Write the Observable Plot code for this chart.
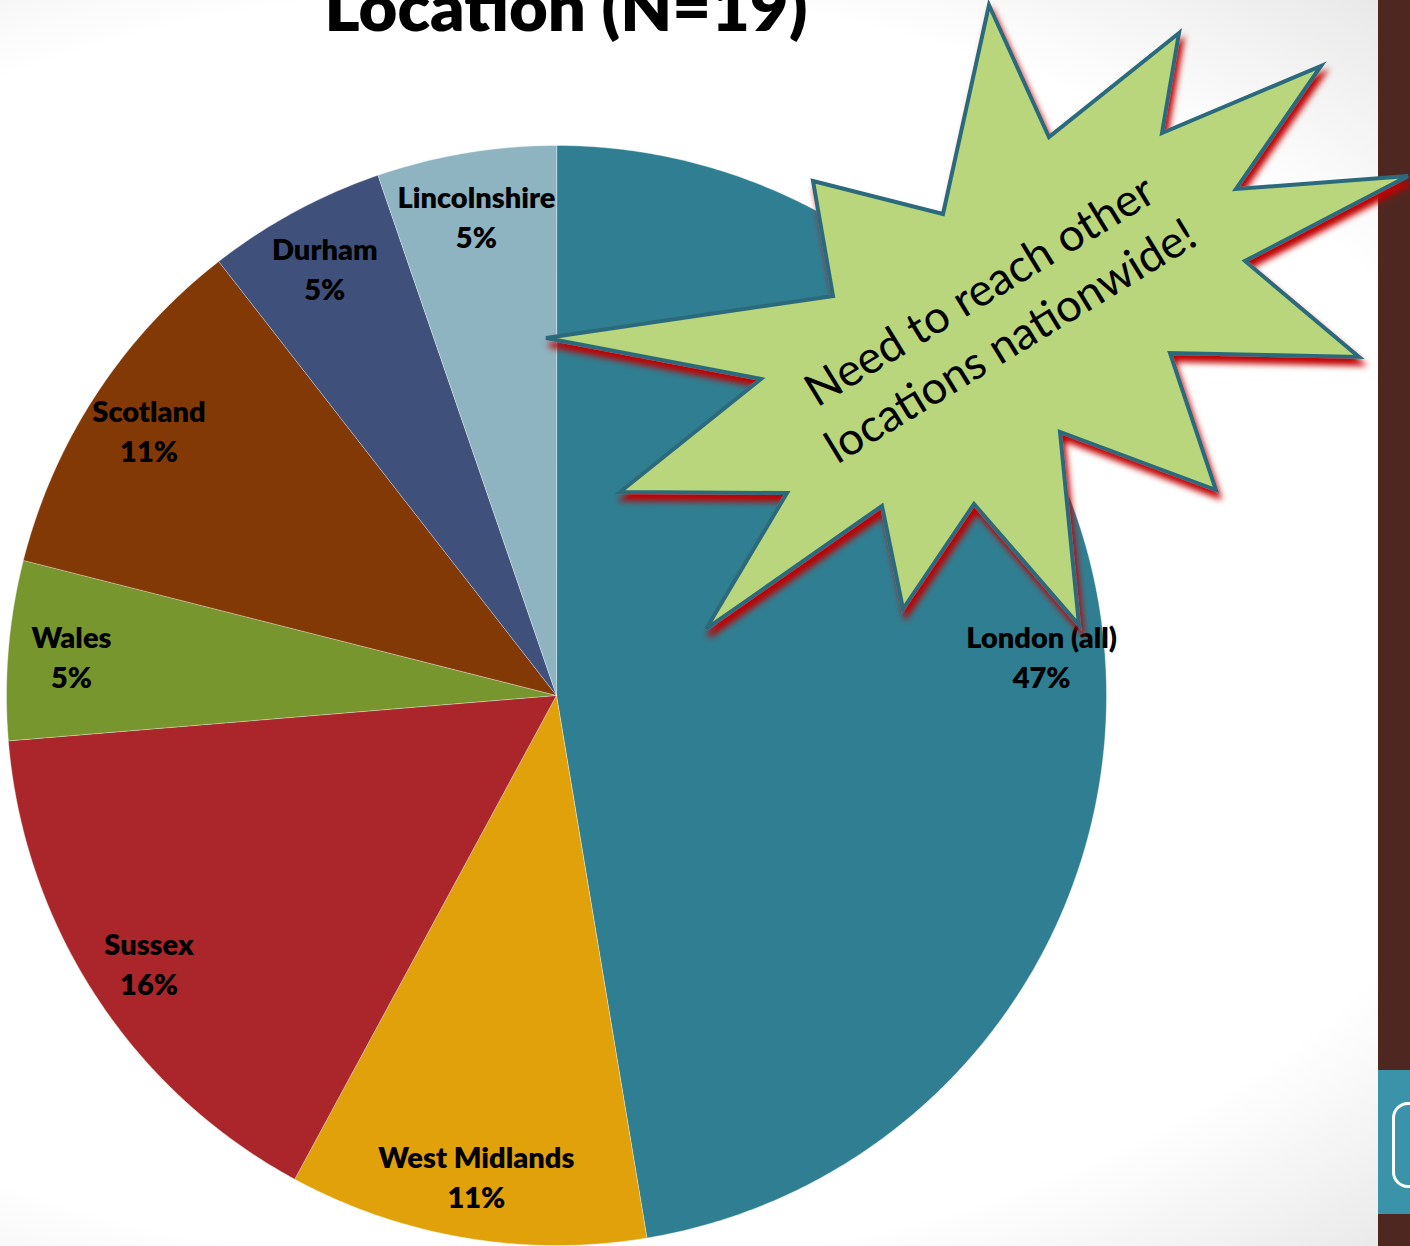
<!DOCTYPE html>
<html><head><meta charset="utf-8">
<script src="https://cdn.jsdelivr.net/npm/d3@7"></script>
<script src="https://cdn.jsdelivr.net/npm/@observablehq/plot@0.6"></script>
<style>
html,body{margin:0;padding:0;background:#fff;}
body{width:1410px;height:1246px;overflow:hidden;}
#wrap{position:relative;width:1410px;height:1246px;overflow:hidden;
  background:radial-gradient(ellipse 1300px 820px at 520px 630px,#ffffff 78%,#e2e2e2 108%);}
#chart,#overlay{position:absolute;left:0;top:0;}
.deco{position:absolute;box-sizing:border-box;}
</style></head><body>
<div id="wrap">
  <div id="chart"></div>
  <div class="deco" style="left:1378px;top:0;width:32px;height:1246px;background:#4e2820"></div>
  <div class="deco" style="left:1378px;top:1070px;width:32px;height:144px;background:#3a93a9"></div>
  <div class="deco" style="left:1392px;top:1102px;width:40px;height:86px;border:3px solid #fff;border-radius:16px"></div>
  <svg id="overlay" width="1410" height="1246"></svg>
</div>
<script>
// ---- data ----
const locations = ["London (all)", "West Midlands", "Sussex", "Wales", "Scotland", "Durham", "Lincolnshire"];
const counts = [9, 2, 3, 1, 2, 1, 1];
const sliceColors = ["#2f7e91", "#e0a10a", "#ab262b", "#77962e", "#833905", "#3f507b", "#8eb3c1"];
const title = "Location (N=19)";
const calloutLines = ["Need to reach other", "locations nationwide!"];

// ---- layout ----
const W = 1410, H = 1246, cx = 556, cy = 695, R = 550;
const total = d3.sum(counts);
const arcs = d3.pie().sort(null).value(d => d)(counts);

const slicePts = [];
arcs.forEach((p, i) => {
  const name = locations[i];
  slicePts.push({name, x: 0, y: 0});
  const n = Math.max(2, Math.ceil((p.endAngle - p.startAngle) / (Math.PI / 360)));
  for (let k = 0; k <= n; k++) {
    const a = p.startAngle + (p.endAngle - p.startAngle) * k / n;
    slicePts.push({name, x: Math.sin(a), y: Math.cos(a)});
  }
});
const labelR = 0.885;
const labels = arcs.map((p, i) => {
  const a = (p.startAngle + p.endAngle) / 2;
  return {x: labelR * Math.sin(a), y: labelR * Math.cos(a),
          text: `${locations[i]}\n${Math.round(counts[i] / total * 100)}%`};
});

const plot = Plot.plot({
  width: W, height: H, margin: 0,
  x: {domain: [-cx / R, (W - cx) / R], axis: null},
  y: {domain: [-(H - cy) / R, cy / R], axis: null},
  color: {domain: locations, range: sliceColors},
  style: {background: "transparent", fontFamily: "Lato, 'Open Sans', sans-serif", overflow: "visible"},
  marks: [
    Plot.line(slicePts, {x: "x", y: "y", z: "name", fill: "name", stroke: "#ffffff",
      strokeOpacity: 0.45, strokeWidth: 0.8, curve: "linear-closed"}),
    Plot.text(labels, {x: "x", y: "y", text: "text", fontSize: 29, fontWeight: 800,
      lineHeight: 1.38, fill: "#000"})
  ]
});
document.getElementById("chart").appendChild(plot);

// ---- annotations (title + callout burst) ----
const svg = d3.select("#overlay");
const defs = svg.append("defs");
const f = defs.append("filter").attr("id", "redshadow").attr("x", "-20%").attr("y", "-20%").attr("width", "140%").attr("height", "140%");
f.append("feDropShadow").attr("dx", 3).attr("dy", 7).attr("stdDeviation", 3)
  .attr("flood-color", "#c00000").attr("flood-opacity", 1);

const t = svg.append("text").attr("x", 566).attr("y", 31).attr("text-anchor", "middle")
  .attr("font-family", "Lato, 'Open Sans', sans-serif").attr("font-weight", 800)
  .attr("font-size", 60).attr("fill", "#000").text(title);
const tw = t.node().getComputedTextLength();
t.attr("font-size", 60 * 483 / tw);

const burstShape = [[989,5],[1049,137],[1179,33],[1162,133],[1321,66],[1236,189],[1408,176],
  [1245,261],[1359,357],[1170,353],[1216,490],[1060,432],[1079,625],[974,504],[903,609],
  [882,506],[706,629],[787,493],[620,492],[761,379],[546,338],[833,296],[813,181],[943,214]];
svg.append("polygon").attr("points", burstShape.map(p => p.join(",")).join(" "))
  .attr("fill", "#b9d67d").attr("stroke", "#2a6b7c").attr("stroke-width", 4)
  .attr("stroke-linejoin", "miter").attr("filter", "url(#redshadow)");

const g = svg.append("g").attr("transform", "translate(1003,329) rotate(-31.4)");
const ct = g.append("text").attr("text-anchor", "middle")
  .attr("font-family", "Lato, 'Open Sans', sans-serif").attr("font-size", 44).attr("fill", "#000");
const l1 = ct.append("tspan").attr("x", 0).attr("y", -29.5).text(calloutLines[0]);
ct.append("tspan").attr("x", 0).attr("y", 29.5).text(calloutLines[1]);
const lw = l1.node().getComputedTextLength();
ct.attr("font-size", 44 * 400 / lw);
</script>
</body></html>
